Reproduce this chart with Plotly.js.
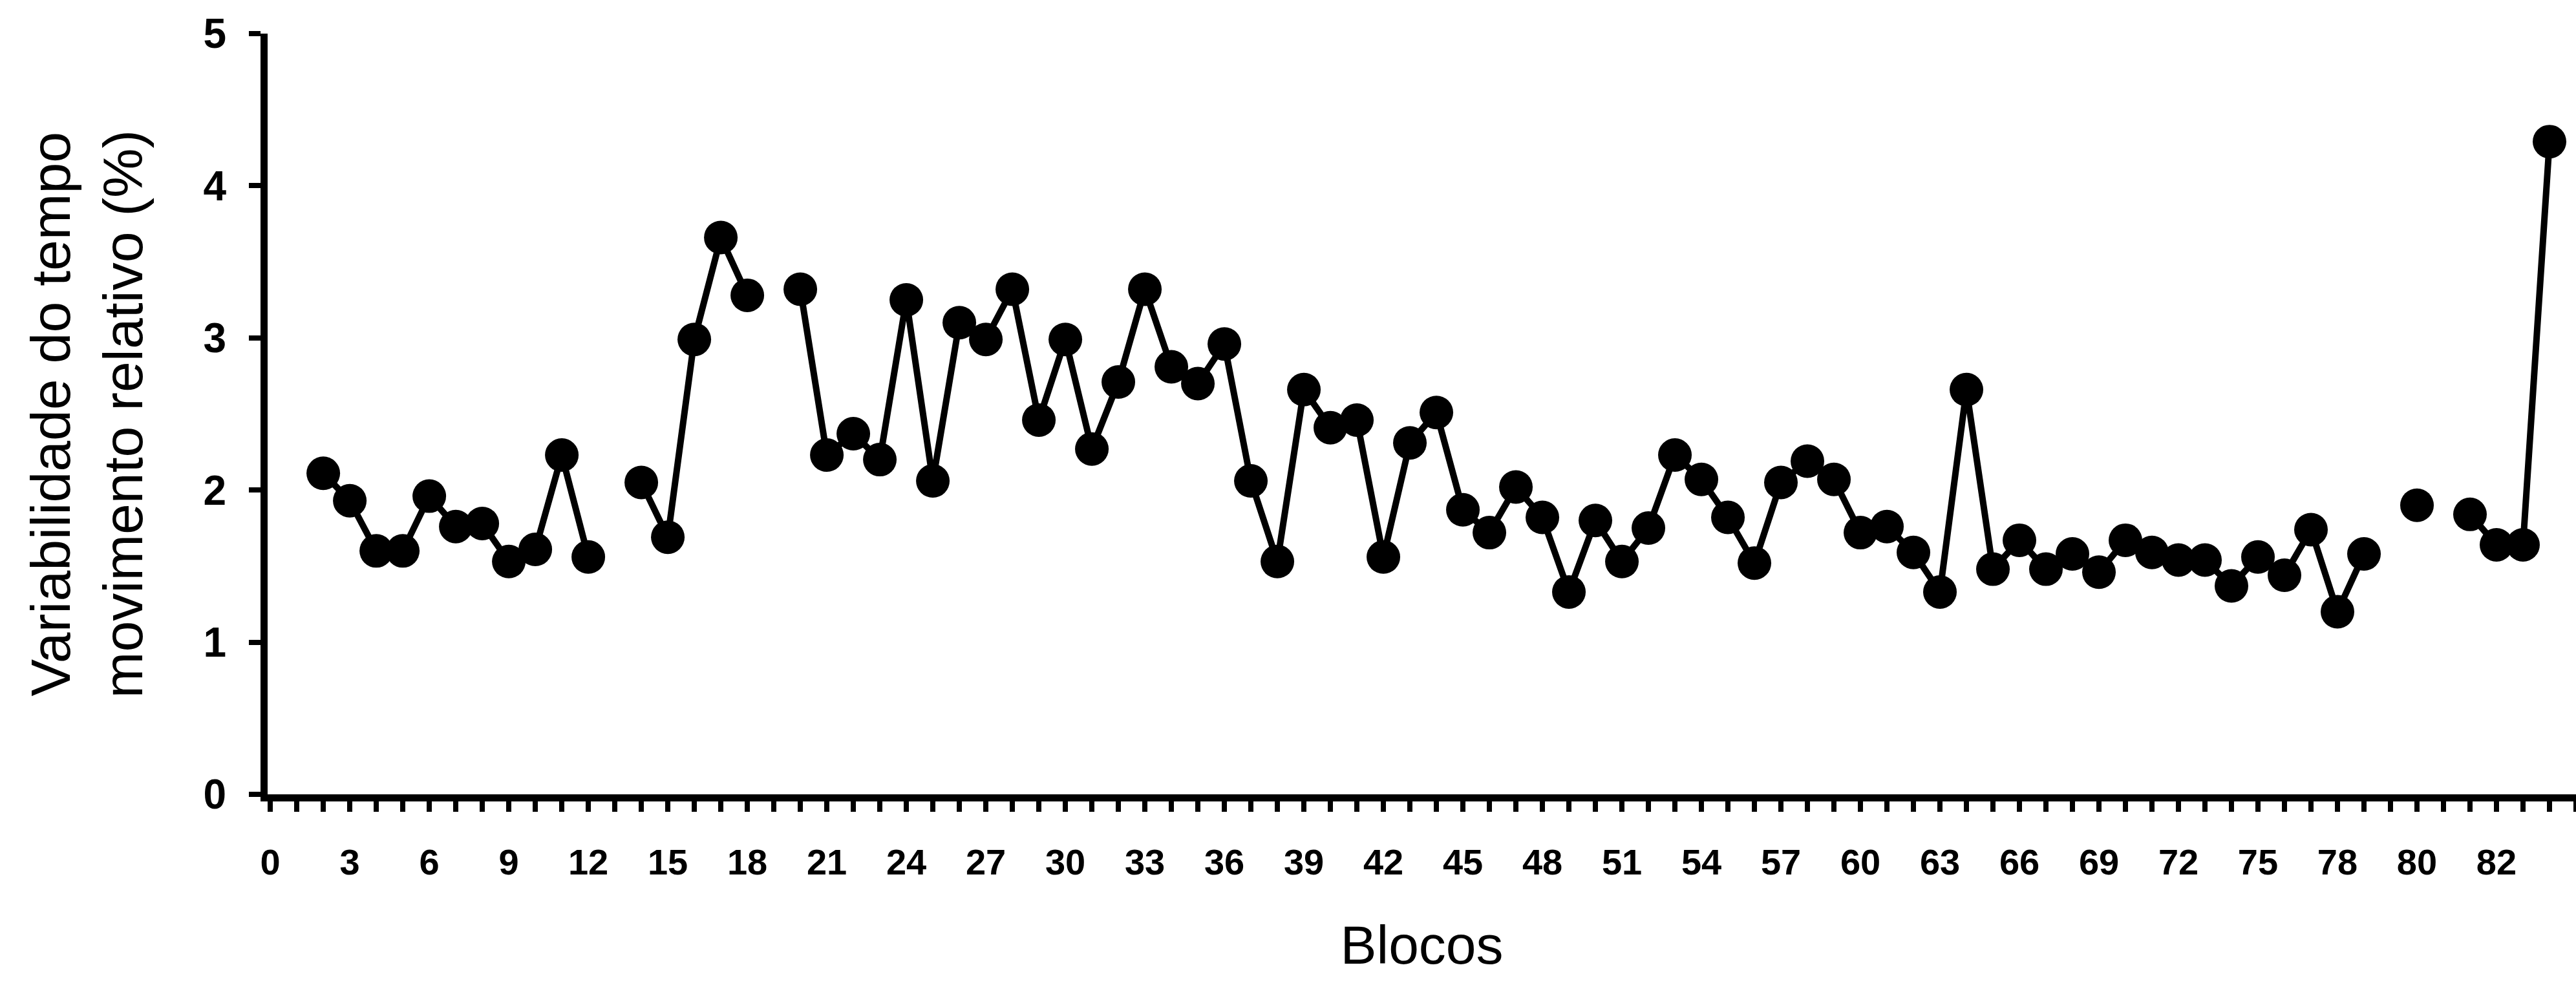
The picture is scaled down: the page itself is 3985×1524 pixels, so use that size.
<!DOCTYPE html>
<html>
<head>
<meta charset="utf-8">
<script src="https://cdn.plot.ly/plotly-3.0.1.min.js"></script>
<style>html,body{margin:0;padding:0;background:#fff;}#chart{width:3985px;height:1524px;}</style>
</head>
<body>
<div id="chart"></div>
<script>
// Blocos (x) and variability values (y); null = missing block (gap in line)
const blocos = [2,3,4,5,6,7,8,9,10,11,12,13,14,15,16,17,18,19,20,21,22,23,24,25,26,27,28,29,30,31,32,33,34,35,36,37,38,39,40,41,42,43,44,45,46,47,48,49,50,51,52,53,54,55,56,57,58,59,60,61,62,63,64,65,66,67,68,69,70,71,72,73,74,75,76,77,78,79,80,81,82,83,84,85,86];
const variabilidade = [2.11,1.93,1.60,1.60,1.96,1.76,1.78,1.53,1.61,2.23,1.56,null,2.05,1.69,2.99,3.66,3.28,null,3.32,2.23,2.37,2.20,3.25,2.06,3.10,2.99,3.32,2.46,2.99,2.27,2.71,3.32,2.81,2.70,2.96,2.06,1.53,2.66,2.41,2.46,1.56,2.31,2.51,1.87,1.72,2.02,1.82,1.33,1.80,1.53,1.75,2.23,2.07,1.82,1.52,2.05,2.19,2.07,1.72,1.76,1.59,1.33,2.66,1.48,1.67,1.48,1.58,1.46,1.67,1.59,1.54,1.54,1.37,1.56,1.44,1.74,1.20,1.58,null,1.90,null,1.84,1.64,1.64,4.29];

// Tick positions and their printed labels (as in the original figure)
const xTickVals = [0,3,6,9,12,15,18,21,24,27,30,33,36,39,42,45,48,51,54,57,60,63,66,69,72,75,78,81,84];
const xTickText = ["0","3","6","9","12","15","18","21","24","27","30","33","36","39","42","45","48","51","54","57","60","63","66","69","72","75","78","80","82"];
const yTickVals = [0,1,2,3,4,5];

const xTitle = "Blocos";
const yTitle = "Variabilidade do tempo<br>movimento relativo (%)";

const FONT = "Liberation Sans, Arial, Helvetica, sans-serif";

const trace = {
  x: blocos,
  y: variabilidade,
  type: "scatter",
  mode: "lines+markers",
  connectgaps: false,
  line: {color: "#000", width: 10},
  marker: {color: "#000", size: 52},
  cliponaxis: false,
  showlegend: false,
  hoverinfo: "x+y"
};

const layout = {
  width: 3985,
  height: 1524,
  paper_bgcolor: "#fff",
  plot_bgcolor: "#fff",
  margin: {l: 414, r: 0, t: 52, b: 295},
  font: {family: FONT, color: "#000"},
  xaxis: {
    range: [-0.1, 87],
    showgrid: false,
    zeroline: false,
    showline: true,
    linecolor: "#000",
    linewidth: 11,
    ticks: "outside",
    ticklen: 16,
    tickwidth: 8,
    tickcolor: "#000",
    tickmode: "array",
    tickvals: xTickVals,
    ticktext: xTickText,
    ticklabelstandoff: 30,
    tickfont: {family: FONT, size: 56, weight: "bold", color: "#000"},
    minor: {tickmode: "linear", tick0: 0, dtick: 1, ticks: "outside", ticklen: 16, tickwidth: 8, tickcolor: "#000", showgrid: false},
    title: {text: xTitle, font: {family: FONT, size: 84, color: "#000"}, standoff: 72}
  },
  yaxis: {
    range: [0, 5],
    showgrid: false,
    zeroline: false,
    showline: true,
    linecolor: "#000",
    linewidth: 11,
    ticks: "outside",
    ticklen: 18,
    tickwidth: 8,
    tickcolor: "#000",
    tickmode: "array",
    tickvals: yTickVals,
    ticklabelstandoff: 22,
    tickfont: {family: FONT, size: 64, weight: "bold", color: "#000"},
    title: {text: yTitle, font: {family: FONT, size: 86, color: "#000"}, standoff: 70}
  }
};

Plotly.newPlot("chart", [trace], layout, {staticPlot: true, displayModeBar: false});
</script>
</body>
</html>
